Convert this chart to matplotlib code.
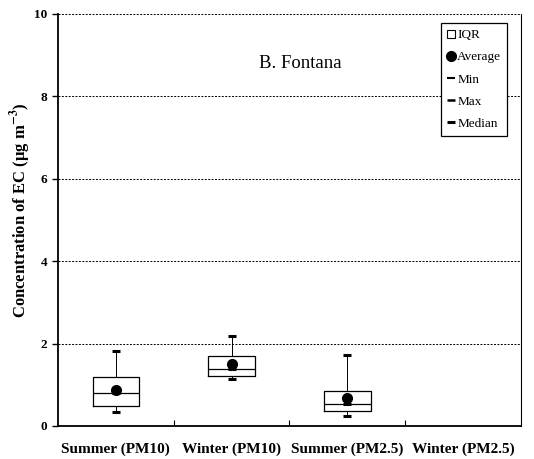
import numpy as np
import matplotlib.pyplot as plt
from matplotlib.lines import Line2D

plt.rcParams['font.family'] = ['Liberation Serif', 'DejaVu Serif']
plt.rcParams['mathtext.fontset'] = 'stix'

categories = ['Summer (PM10)', 'Winter (PM10)', 'Summer (PM2.5)', 'Winter (PM2.5)']
q1 = [0.49, 1.22, 0.37]
q3 = [1.20, 1.69, 0.84]
median = [0.79, 1.38, 0.53]
average = [0.87, 1.50, 0.68]
vmin = [0.33, 1.15, 0.24]
vmax = [1.82, 2.18, 1.72]

fig = plt.figure(figsize=(5.34, 4.59), dpi=100)
ax = fig.add_axes([0.1086, 0.0719, 0.867, 0.8976])

stats = []
for i in range(len(q1)):
    stats.append(dict(med=median[i], q1=q1[i], q3=q3[i],
                      whislo=vmin[i], whishi=vmax[i], fliers=[]))
pos = np.arange(len(q1))
ax.bxp(stats, positions=pos, widths=0.4, showcaps=False, patch_artist=False,
       boxprops=dict(color='black', linewidth=0.9),
       medianprops=dict(color='black', linewidth=0.9),
       whiskerprops=dict(color='black', linewidth=0.7), zorder=3)

# min / max / median marks
ax.plot(pos, vmin, ls='none', marker='_', ms=6, mew=2.2, color='black', zorder=4)
ax.plot(pos, vmax, ls='none', marker='_', ms=6, mew=2.2, color='black', zorder=4)
ax.plot(pos, median, ls='none', marker='_', ms=6, mew=2.2, color='black', zorder=4)
ax.plot(pos, average, ls='none', marker='o', ms=7, color='black', zorder=5)

ax.set_xlim(-0.5, len(categories) - 0.5)
ax.set_ylim(0, 10)
ax.set_yticks([0, 2, 4, 6, 8, 10])
ax.set_yticklabels(['0', '2', '4', '6', '8', '10'], fontweight='bold', fontsize=9.5)
for y in [2, 4, 6, 8, 10]:
    ax.axhline(y, color='black', ls=(0, (2, 1.5)), lw=0.7, zorder=1)

ax.set_xticks(np.arange(len(categories) - 1) + 0.5)
ax.set_xticklabels([])
ax.set_xticks(np.arange(len(categories)), minor=True)
ax.set_xticklabels(categories, minor=True, fontweight='bold', fontsize=11)
ax.tick_params(axis='x', which='minor', length=0, pad=12)
ax.tick_params(axis='x', which='major', length=4, direction='in')
ax.tick_params(axis='y', length=4, direction='out', width=1)

ax.spines['top'].set_visible(False)
ax.spines['left'].set_linewidth(1.3)
ax.spines['bottom'].set_linewidth(1.3)
ax.spines['right'].set_linewidth(0.8)

ax.set_ylabel('Concentration of EC (μg m$^{\\mathbf{-3}}$)', fontweight='bold', fontsize=12)
ax.yaxis.set_label_coords(-0.055, 0.524)

ax.text(1.59, 8.8, 'B. Fontana', fontsize=13.5, ha='center', va='center')

handles = [
    Line2D([], [], ls='none', marker='s', ms=6, mfc='white', mec='black', mew=0.8),
    Line2D([], [], ls='none', marker='o', ms=7, color='black'),
    Line2D([], [], ls='none', marker='_', ms=6, mew=1.5, color='black'),
    Line2D([], [], ls='none', marker='_', ms=6, mew=1.8, color='black'),
    Line2D([], [], ls='none', marker='_', ms=6, mew=2.2, color='black'),
]
leg = ax.legend(handles, ['IQR', 'Average', 'Min', 'Max', 'Median'],
                loc='upper right', bbox_to_anchor=(0.97, 0.978), fontsize=9.5,
                handlelength=0.6, handletextpad=0.15, labelspacing=0.75,
                fancybox=False, framealpha=1, edgecolor='black', borderpad=0.45,
                borderaxespad=0)
leg.get_frame().set_linewidth(0.9)

fig.savefig('out.png', dpi=100)
